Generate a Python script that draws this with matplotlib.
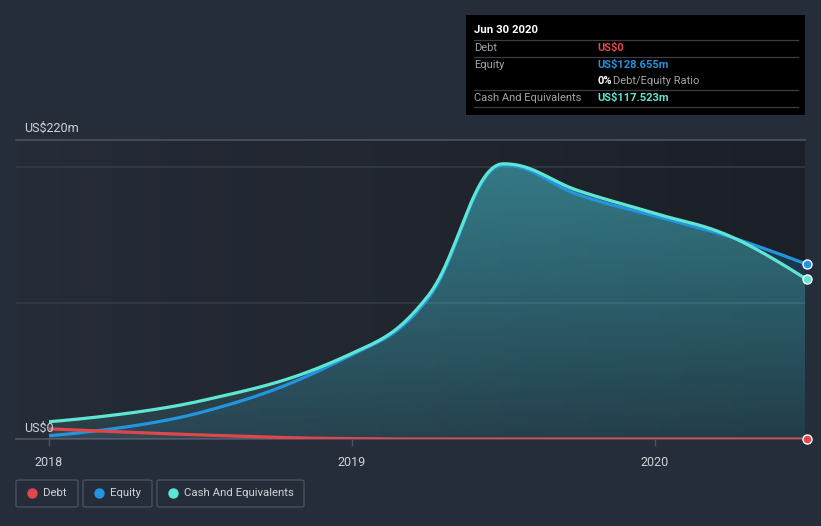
import numpy as np
import matplotlib
matplotlib.use("Agg")
import matplotlib.pyplot as plt
from matplotlib.patches import Rectangle, FancyBboxPatch, Polygon
from matplotlib.lines import Line2D

# ---- data (US$ millions), report dates as fractional year ----
dates = [2018.0, 2018.5, 2019.0, 2019.25, 2019.5, 2019.75, 2020.0, 2020.25, 2020.5]
debt = [7.5, 3.0, 0.3, 0.0, 0.0, 0.0, 0.0, 0.0, 0.0]
equity = [2.4, 19.5, 62.0, 103.0, 201.5, 179.5, 164.0, 148.5, 128.655]
cash = [12.7, 28.0, 63.0, 105.0, 202.5, 182.5, 166.0, 149.0, 117.523]
year_ticks = [2018, 2019, 2020]
year_labels = ["2018", "2019", "2020"]
y_max = 220

W, H = 821, 526
BG = "#262d3a"
DEBT_C = "#e0474c"
EQ_C = "#2394df"
CASH_C = "#5ee6d2"
GRID_C = "#343a46"
LINE_C = "#4d535f"
TXT_C = "#d0d4d9"

plt.rcParams['font.family'] = ['Roboto', 'DejaVu Sans']


def spline(x, y, n=60, smoothing=1.5):
    """Highcharts-style spline through the points (cubic Bezier segments)."""
    x = list(map(float, x)); y = list(map(float, y))
    N = len(x)
    denom = smoothing + 1
    lc = [(x[i], y[i]) for i in range(N)]
    rc = [(x[i], y[i]) for i in range(N)]
    for i in range(1, N - 1):
        px, py = x[i], y[i]
        lx, ly = x[i - 1], y[i - 1]
        nx, ny = x[i + 1], y[i + 1]
        lcx = (smoothing * px + lx) / denom
        lcy = (smoothing * py + ly) / denom
        rcx = (smoothing * px + nx) / denom
        rcy = (smoothing * py + ny) / denom
        if rcx != lcx:
            corr = ((rcy - lcy) * (rcx - px)) / (rcx - lcx) + py - rcy
            lcy += corr; rcy += corr
            if lcy > ly and lcy > py:
                lcy = max(ly, py); rcy = 2 * py - lcy
            elif lcy < ly and lcy < py:
                lcy = min(ly, py); rcy = 2 * py - lcy
            if rcy > ny and rcy > py:
                rcy = max(ny, py); lcy = 2 * py - rcy
            elif rcy < ny and rcy < py:
                rcy = min(ny, py); lcy = 2 * py - rcy
        lc[i] = (lcx, lcy); rc[i] = (rcx, rcy)
    t = np.linspace(0, 1, n)[:, None]
    pts = []
    for i in range(N - 1):
        p0 = np.array([x[i], y[i]]); p1 = np.array(rc[i])
        p2 = np.array(lc[i + 1]); p3 = np.array([x[i + 1], y[i + 1]])
        seg = ((1 - t) ** 3) * p0 + 3 * ((1 - t) ** 2) * t * p1 + 3 * (1 - t) * t * t * p2 + t ** 3 * p3
        pts.append(seg if i == 0 else seg[1:])
    pts = np.vstack(pts)
    return pts[:, 0], pts[:, 1]


fig = plt.figure(figsize=(W / 100, H / 100), dpi=100)
fig.patch.set_facecolor(BG)

ax_l, ax_r, ax_t, ax_b = 16, 805, 140, 439
ax = fig.add_axes([ax_l / W, 1 - ax_b / H, (ax_r - ax_l) / W, (ax_b - ax_t) / H])
ax.set_facecolor(BG)
x0 = 2018 - 33 / 303
x1 = 2018 + (805 - 49) / 303
ax.set_xlim(x0, x1)
ax.set_ylim(0, y_max)
for s in ax.spines.values():
    s.set_visible(False)

# background horizontal gradient
grad = np.linspace(0, 1, 256).reshape(1, -1)
c_left = np.array([38, 44, 56]) / 255
c_right = np.array([27, 31, 39]) / 255
img = c_left[None, None, :] * (1 - grad[..., None]) + c_right[None, None, :] * grad[..., None]
ax.imshow(img, extent=[x0, x1, 0, y_max], aspect='auto', zorder=0, origin='lower')

for gv in [100, 200]:
    ax.axhline(gv, color=GRID_C, lw=1.2, zorder=1)
ax.axhline(y_max, color=LINE_C, lw=1.2, zorder=1, clip_on=False)
ax.axhline(0, color=LINE_C, lw=1.2, zorder=1, clip_on=False)

dx, dy = spline(dates, debt)
dy = np.maximum(dy, 0)
ex, ey = spline(dates, equity)
cx, cy = spline(dates, cash)


def grad_fill(xv, yv, color, a_bot, a_top, z):
    rgb = np.array(matplotlib.colors.to_rgb(color))
    al = np.linspace(a_bot, a_top, 256).reshape(-1, 1)
    im = np.zeros((256, 1, 4))
    im[..., :3] = rgb
    im[..., 3] = al
    art = ax.imshow(im, extent=[x0, x1, 0, y_max], aspect='auto', origin='lower', zorder=z)
    verts = np.vstack([np.column_stack([xv, yv]), [[xv[-1], 0], [xv[0], 0]]])
    poly = Polygon(verts, closed=True, transform=ax.transData, facecolor='none', edgecolor='none')
    ax.add_patch(poly)
    art.set_clip_path(poly)


grad_fill(dx, dy, DEBT_C, 0.08, 0.2, 2)
grad_fill(ex, ey, EQ_C, 0.1, 0.3, 2.1)
grad_fill(cx, cy, CASH_C, 0.1, 0.36, 2.2)

ax.plot(ex, ey, color=EQ_C, lw=2.3, zorder=4, solid_capstyle='butt')
ax.plot(cx, cy, color=CASH_C, lw=2.3, zorder=5, solid_capstyle='butt')
ax.plot(dx, dy, color=DEBT_C, lw=2.3, zorder=6, solid_capstyle='butt')

for vals, col in [(equity, EQ_C), (cash, CASH_C), (debt, DEBT_C)]:
    ax.plot([dates[-1]], [vals[-1]], 'o', ms=6.5, mfc=col, mec='white', mew=1,
            zorder=7, clip_on=False)

ax.set_xticks(year_ticks)
ax.set_xticklabels(year_labels)
ax.tick_params(axis='x', colors=LINE_C, length=5, width=1, labelcolor=TXT_C,
               labelsize=9, pad=7)
ax.set_yticks([])

ax.text(24 / W, 1 - 128 / H, "US$220m", transform=fig.transFigure, color=TXT_C,
        fontsize=9, va='center', ha='left')
ax.text(24 / W, 1 - 428 / H, "US$0", transform=fig.transFigure, color=TXT_C,
        fontsize=9, va='center', ha='left', zorder=8)


def fx(x):
    return x / W


def fy(y):
    return 1 - y / H


# tooltip
fig.patches.append(Rectangle((fx(466), fy(115)), (805 - 466) / W, 100 / H,
                             transform=fig.transFigure, facecolor='black',
                             edgecolor='none', zorder=10))
for ly in [40, 57, 90, 107]:
    fig.add_artist(Line2D([fx(474), fx(798)], [fy(ly), fy(ly)], color='#3a3d42',
                          lw=0.9, transform=fig.transFigure, zorder=11))
fig.text(fx(474), fy(30), "Jun 30 2020", color='white', fontsize=8.2,
         fontweight='bold', va='center', zorder=12)
rows = [(48, "Debt", "US$0", DEBT_C), (65, "Equity", "US$128.655m", EQ_C),
        (98, "Cash And Equivalents", "US$117.523m", CASH_C)]
for y, lab, val, col in rows:
    fig.text(fx(474), fy(y), lab, color='#a0a4aa', fontsize=8, va='center', zorder=12)
    fig.text(fx(597), fy(y), val, color=col, fontsize=8, fontweight='bold',
             va='center', zorder=12)
fig.text(fx(597), fy(81), "0%", color='white', fontsize=8, fontweight='bold',
         va='center', zorder=12)
fig.text(fx(613), fy(81), "Debt/Equity Ratio", color='#a0a4aa', fontsize=8,
         va='center', zorder=12)

# legend
legend_items = [("Debt", DEBT_C, 16, 78), ("Equity", EQ_C, 83, 152),
                ("Cash And Equivalents", CASH_C, 157, 304)]
for lab, col, xl, xr in legend_items:
    fig.patches.append(FancyBboxPatch((fx(xl), fy(507)), (xr - xl) / W, 27 / H,
                                      boxstyle="round,pad=0,rounding_size=0.003",
                                      transform=fig.transFigure, facecolor='none',
                                      edgecolor='#4a505c', lw=1))
    fig.add_artist(Line2D([fx(xl + 16)], [fy(493)], marker='o', ms=6.5, color=col,
                          transform=fig.transFigure, lw=0))
    fig.text(fx(xl + 27), fy(493), lab, color=TXT_C, fontsize=8.2, va='center')

fig.savefig("out.png", dpi=100, facecolor=BG)
